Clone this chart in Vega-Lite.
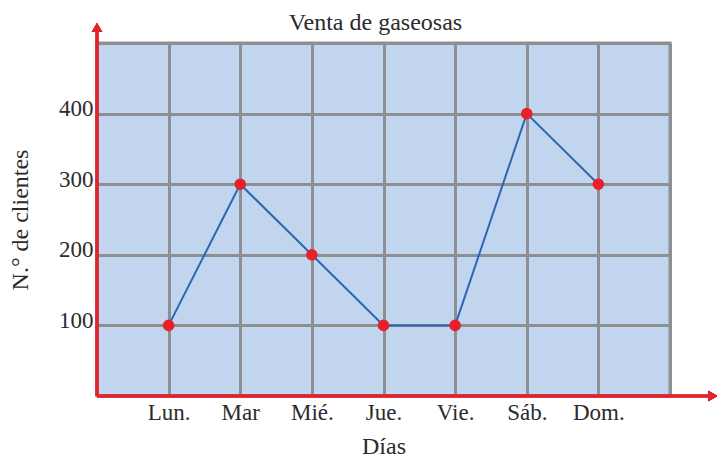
{
  "$schema": "https://vega.github.io/schema/vega-lite/v6.json",
  "autosize": {"type": "none"},
  "padding": {"left": 97, "top": 43, "right": 47, "bottom": 62},
  "width": 573,
  "height": 353,
  "background": "white",
  "config": {
    "font": "Liberation Serif",
    "view": {"fill": "#c1d6ee", "stroke": "#8d8f93", "strokeWidth": 3},
    "axis": {
      "labelFont": "Liberation Serif",
      "titleFont": "Liberation Serif",
      "labelFontSize": 23,
      "titleFontSize": 24,
      "labelColor": "#2b2b2b",
      "titleColor": "#2b2b2b",
      "titleFontWeight": "normal",
      "grid": true,
      "gridColor": "#8d8f93",
      "gridWidth": 3,
      "gridOpacity": 1,
      "domain": false,
      "ticks": false
    }
  },
  "title": {
    "text": "Venta de gaseosas",
    "font": "Liberation Serif",
    "fontSize": 24,
    "fontWeight": "normal",
    "color": "#2b2b2b",
    "anchor": "middle",
    "frame": "group",
    "dx": -8,
    "offset": -12
  },
  "data": {
    "values": [
      {"dia": "Lun.", "i": 1, "clientes": 100},
      {"dia": "Mar", "i": 2, "clientes": 300},
      {"dia": "Mié.", "i": 3, "clientes": 200},
      {"dia": "Jue.", "i": 4, "clientes": 100},
      {"dia": "Vie.", "i": 5, "clientes": 100},
      {"dia": "Sáb.", "i": 6, "clientes": 400},
      {"dia": "Dom.", "i": 7, "clientes": 300}
    ]
  },
  "layer": [
    {
      "mark": {"type": "line", "color": "#2c67b1", "strokeWidth": 2},
      "encoding": {
        "x": {
          "field": "i",
          "type": "quantitative",
          "scale": {"domain": [0, 8], "nice": false, "zero": false},
          "axis": {
            "values": [1, 2, 3, 4, 5, 6, 7, 8],
            "labelExpr": "['','Lun.','Mar','Mié.','Jue.','Vie.','Sáb.','Dom.',''][datum.value]",
            "labelPadding": 5,
            "labelBaseline": "top",
            "title": "Días",
            "titlePadding": 10
          }
        },
        "y": {
          "field": "clientes",
          "type": "quantitative",
          "scale": {"domain": [0, 500], "nice": false},
          "axis": {
            "values": [100, 200, 300, 400, 500],
            "labelExpr": "datum.value == 500 ? '' : datum.label",
            "labelBaseline": "alphabetic",
            "labelOffset": 2,
            "labelPadding": 4,
            "title": "N.° de clientes",
            "titlePadding": 26
          }
        }
      }
    },
    {
      "mark": {"type": "point", "filled": true, "color": "#e8202a", "opacity": 1, "size": 135},
      "encoding": {
        "x": {"field": "i", "type": "quantitative"},
        "y": {"field": "clientes", "type": "quantitative"}
      }
    },
    {
      "mark": {"type": "rule", "color": "#e0242e", "strokeWidth": 2.5},
      "encoding": {
        "x": {"datum": 0, "type": "quantitative"},
        "x2": {"datum": 8.58},
        "y": {"datum": 0, "type": "quantitative"}
      }
    },
    {
      "mark": {"type": "rule", "color": "#e0242e", "strokeWidth": 2.5},
      "encoding": {
        "x": {"datum": 0, "type": "quantitative"},
        "y": {"datum": 0, "type": "quantitative"},
        "y2": {"datum": 520}
      }
    },
    {
      "mark": {"type": "point", "shape": "triangle-right", "filled": true, "color": "#e0242e", "opacity": 1, "size": 110},
      "encoding": {
        "x": {"datum": 8.6, "type": "quantitative"},
        "y": {"datum": 0, "type": "quantitative"}
      }
    },
    {
      "mark": {"type": "point", "shape": "triangle-up", "filled": true, "color": "#e0242e", "opacity": 1, "size": 110},
      "encoding": {
        "x": {"datum": 0, "type": "quantitative"},
        "y": {"datum": 522, "type": "quantitative"}
      }
    }
  ]
}
